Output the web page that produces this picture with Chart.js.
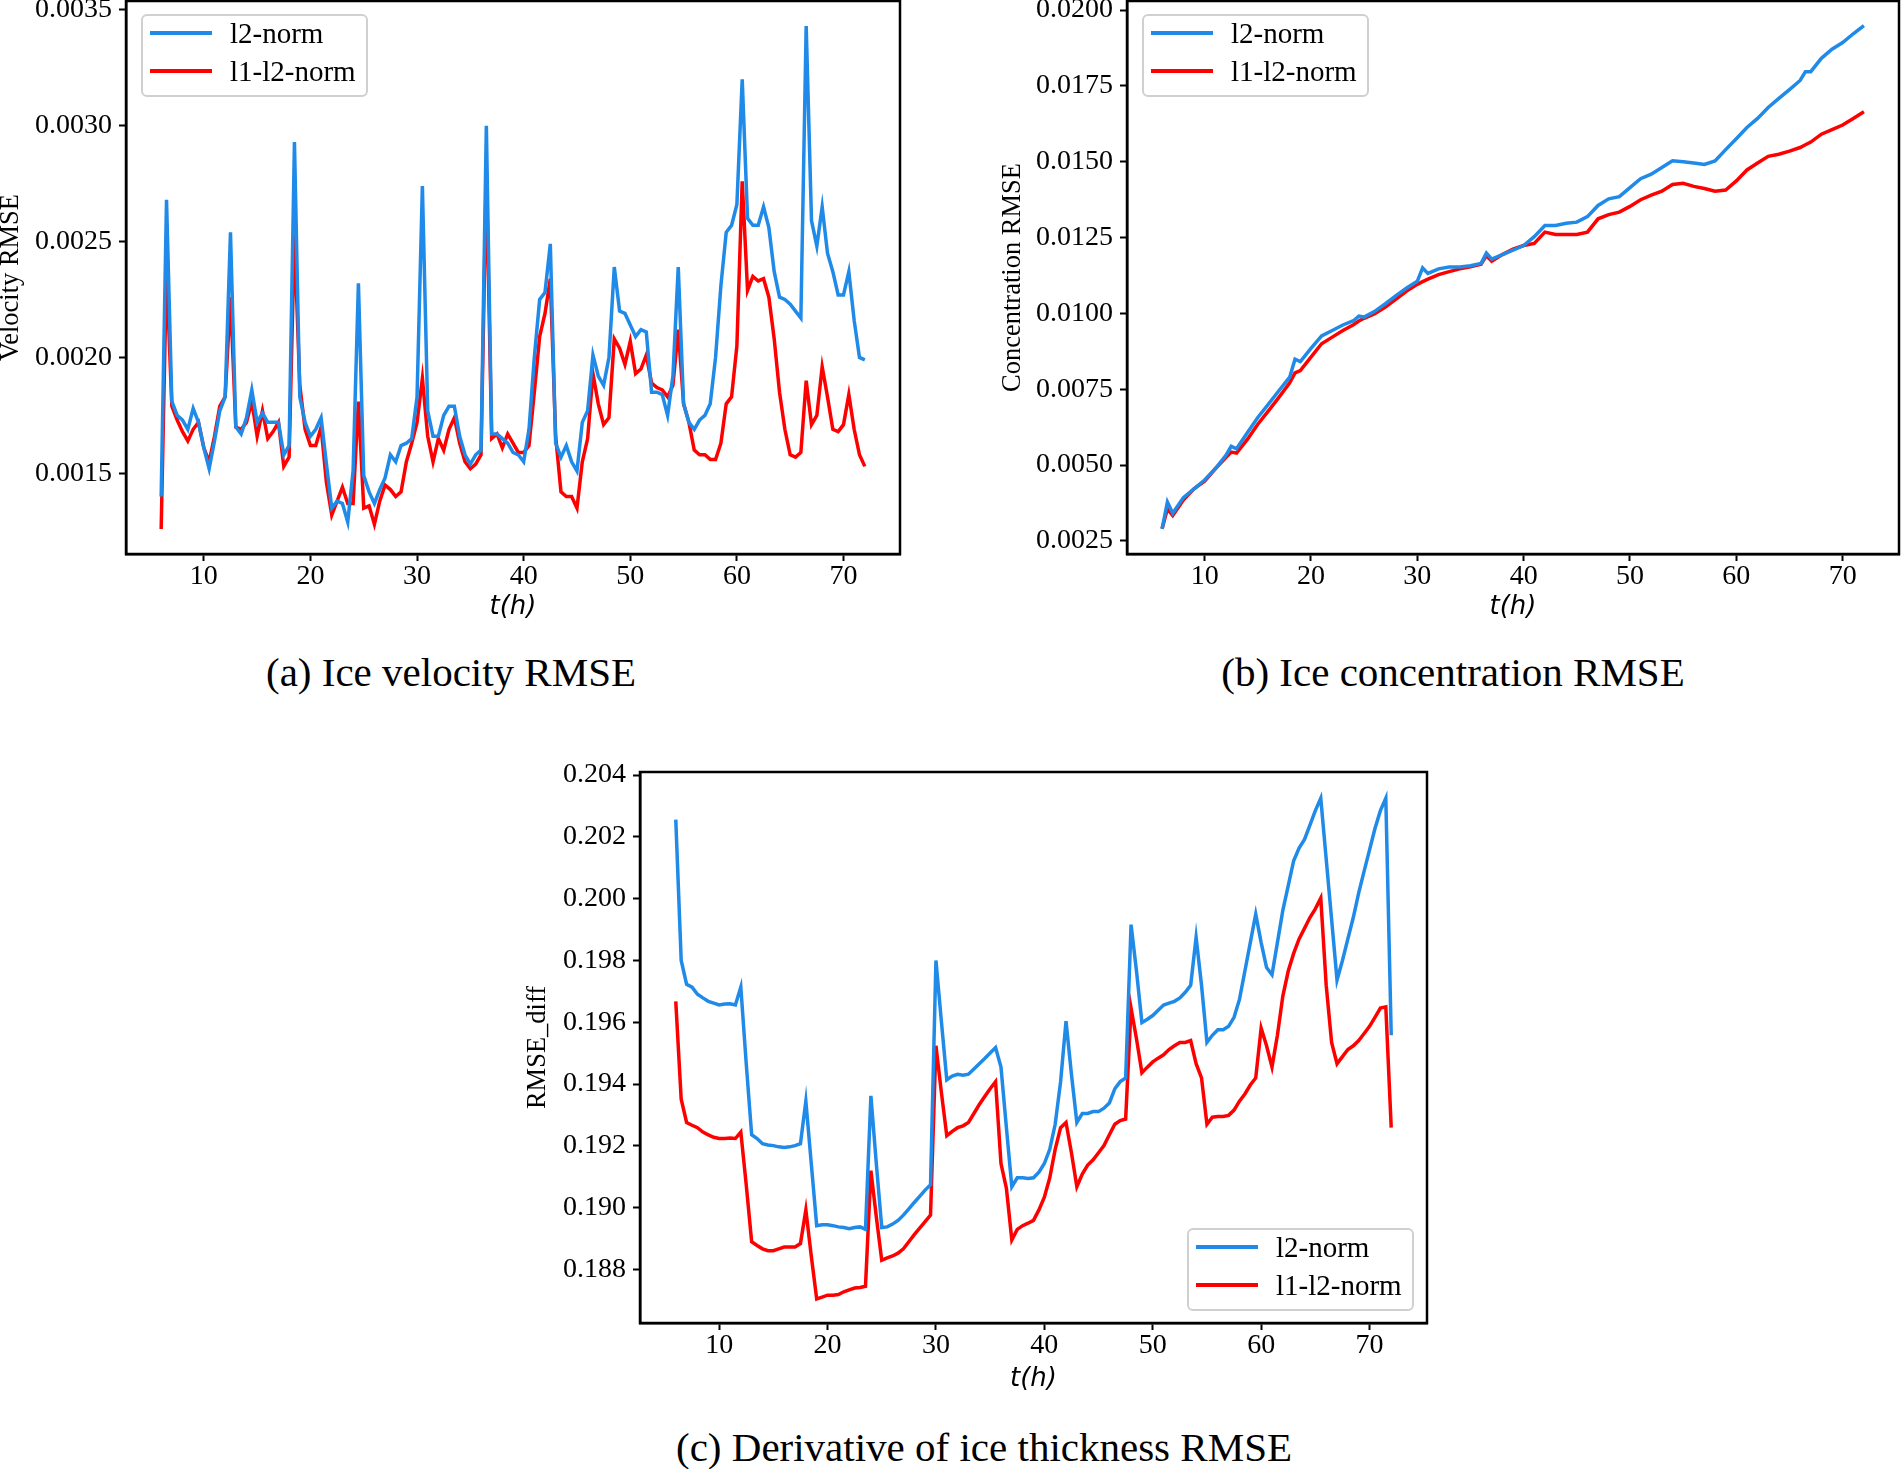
<!DOCTYPE html>
<html>
<head>
<meta charset="utf-8">
<script src="https://cdn.jsdelivr.net/npm/chart.js@4/dist/chart.umd.min.js"></script>
<style>
  body { margin: 0; width: 1901px; height: 1469px; background: #fff; position: relative; overflow: hidden; }
  canvas { position: absolute; }
  .caption {
    position: absolute; transform: translate(-50%, -50%); white-space: nowrap;
    font-family: "Liberation Serif", serif; font-size: 41px; color: #000;
  }
  .legend {
    position: absolute; width: 227px; height: 83px; box-sizing: border-box;
    background: #fff; border: 2px solid #d0d0d0; border-radius: 6px;
    font-family: "Liberation Serif", serif; font-size: 29px; color: #000;
  }
  .legend .swatch { position: absolute; left: 7px; width: 62px; height: 4px; }
  .legend .label { position: absolute; left: 87px; transform: translateY(-50%); line-height: 1; white-space: nowrap; }
</style>
</head>
<body>
<canvas id="chart-vel" width="920" height="670" style="left:0px;top:-30px"></canvas>
<canvas id="chart-conc" width="911" height="670" style="left:990px;top:-30px"></canvas>
<canvas id="chart-diff" width="950" height="660" style="left:500px;top:740px"></canvas>

<script>
const SERIES_LABELS = ["l2-norm", "l1-l2-norm"];
const SERIES_COLORS = ["#1f8ae8", "#ff0000"];
const X_TICKS = [10, 20, 30, 40, 50, 60, 70];

// hours, every half hour from 6 to 72
const halfHours = [
  6, 6.5, 7, 7.5, 8, 8.5, 9, 9.5, 10, 10.5,
  11, 11.5, 12, 12.5, 13, 13.5, 14, 14.5, 15, 15.5,
  16, 16.5, 17, 17.5, 18, 18.5, 19, 19.5, 20, 20.5,
  21, 21.5, 22, 22.5, 23, 23.5, 24, 24.5, 25, 25.5,
  26, 26.5, 27, 27.5, 28, 28.5, 29, 29.5, 30, 30.5,
  31, 31.5, 32, 32.5, 33, 33.5, 34, 34.5, 35, 35.5,
  36, 36.5, 37, 37.5, 38, 38.5, 39, 39.5, 40, 40.5,
  41, 41.5, 42, 42.5, 43, 43.5, 44, 44.5, 45, 45.5,
  46, 46.5, 47, 47.5, 48, 48.5, 49, 49.5, 50, 50.5,
  51, 51.5, 52, 52.5, 53, 53.5, 54, 54.5, 55, 55.5,
  56, 56.5, 57, 57.5, 58, 58.5, 59, 59.5, 60, 60.5,
  61, 61.5, 62, 62.5, 63, 63.5, 64, 64.5, 65, 65.5,
  66, 66.5, 67, 67.5, 68, 68.5, 69, 69.5, 70, 70.5,
  71, 71.5, 72,
];

// (a) ice velocity RMSE
const velL2 = [
  0.00140, 0.00268, 0.00181, 0.00175, 0.00173, 0.00169, 0.00178, 0.00172, 0.00161, 0.00152,
  0.00164, 0.00177, 0.00183, 0.00254, 0.00170, 0.00167, 0.00174, 0.00186, 0.00172, 0.00176,
  0.00172, 0.00172, 0.00172, 0.00158, 0.00162, 0.00293, 0.00183, 0.00172, 0.00166, 0.00169,
  0.00174, 0.00154, 0.00135, 0.00138, 0.00137, 0.00129, 0.00151, 0.00232, 0.00149, 0.00142,
  0.00137, 0.00143, 0.00148, 0.00158, 0.00155, 0.00162, 0.00163, 0.00165, 0.00183, 0.00274,
  0.00177, 0.00166, 0.00166, 0.00175, 0.00179, 0.00179, 0.00166, 0.00158, 0.00154, 0.00158,
  0.00160, 0.00300, 0.00167, 0.00167, 0.00165, 0.00163, 0.00159, 0.00158, 0.00155, 0.00169,
  0.00200, 0.00225, 0.00228, 0.00249, 0.00163, 0.00157, 0.00162, 0.00155, 0.00151, 0.00172,
  0.00177, 0.00201, 0.00192, 0.00188, 0.00200, 0.00239, 0.00220, 0.00219, 0.00214, 0.00209,
  0.00212, 0.00211, 0.00185, 0.00185, 0.00184, 0.00175, 0.00192, 0.00239, 0.00180, 0.00172,
  0.00169, 0.00173, 0.00175, 0.00180, 0.00200, 0.00231, 0.00254, 0.00257, 0.00266, 0.00320,
  0.00260, 0.00257, 0.00257, 0.00265, 0.00256, 0.00237, 0.00226, 0.00225, 0.00223, 0.00220,
  0.00217, 0.00343, 0.00259, 0.00248, 0.00265, 0.00245, 0.00237, 0.00227, 0.00227, 0.00237,
  0.00216, 0.00200, 0.00199,
];
const velL1L2 = [
  0.00126, 0.00238, 0.00179, 0.00173, 0.00168, 0.00164, 0.00169, 0.00172, 0.00161, 0.00155,
  0.00166, 0.00179, 0.00183, 0.00226, 0.00170, 0.00169, 0.00172, 0.00181, 0.00166, 0.00177,
  0.00165, 0.00168, 0.00172, 0.00153, 0.00157, 0.00253, 0.00188, 0.00169, 0.00162, 0.00162,
  0.00170, 0.00146, 0.00132, 0.00138, 0.00144, 0.00137, 0.00137, 0.00181, 0.00135, 0.00136,
  0.00128, 0.00138, 0.00145, 0.00143, 0.00140, 0.00142, 0.00155, 0.00163, 0.00172, 0.00191,
  0.00166, 0.00155, 0.00165, 0.00160, 0.00169, 0.00174, 0.00163, 0.00155, 0.00152, 0.00154,
  0.00158, 0.00280, 0.00165, 0.00167, 0.00161, 0.00167, 0.00163, 0.00159, 0.00159, 0.00162,
  0.00185, 0.00209, 0.00219, 0.00234, 0.00166, 0.00142, 0.00140, 0.00140, 0.00135, 0.00155,
  0.00165, 0.00193, 0.00180, 0.00171, 0.00174, 0.00208, 0.00204, 0.00197, 0.00207, 0.00193,
  0.00195, 0.00201, 0.00189, 0.00187, 0.00186, 0.00183, 0.00188, 0.00212, 0.00180, 0.00172,
  0.00160, 0.00158, 0.00158, 0.00156, 0.00156, 0.00163, 0.00180, 0.00183, 0.00205, 0.00276,
  0.00229, 0.00235, 0.00233, 0.00234, 0.00226, 0.00208, 0.00185, 0.00169, 0.00158, 0.00157,
  0.00159, 0.00190, 0.00171, 0.00175, 0.00196, 0.00183, 0.00169, 0.00168, 0.00171, 0.00184,
  0.00169, 0.00158, 0.00153,
];
const velTicks = [0.0015, 0.0020, 0.0025, 0.0030, 0.0035];

// (b) ice concentration RMSE
const concHours = [
  6, 6.5, 7, 8, 9, 10, 11, 12, 12.5, 13, 14, 15, 16, 17, 18, 18.5,
  19, 20, 21, 22, 23, 24, 24.5, 25, 26, 27, 28, 29, 30, 30.5,
  31, 32, 33, 34, 35, 36, 36.5, 37, 38, 39, 40, 41, 42, 43, 44, 45,
  46, 47, 48, 49, 50, 51, 52, 53, 54, 55, 56, 57, 58, 59, 60,
  61, 62, 63, 64, 65, 66, 66.5, 67, 68, 69, 70, 71, 72,
];
const concL2 = [
  0.00290, 0.00378, 0.00341, 0.00393, 0.00422, 0.00451, 0.00488, 0.00532, 0.00562, 0.00554, 0.00606, 0.00657, 0.00701, 0.00746, 0.00790, 0.00849,
  0.00841, 0.00885, 0.00926, 0.00944, 0.00962, 0.00976, 0.00991, 0.00988, 0.01007, 0.01032, 0.01059, 0.01084, 0.01106, 0.01150,
  0.01132, 0.01147, 0.01153, 0.01153, 0.01157, 0.01165, 0.01199, 0.01179, 0.01194, 0.01209, 0.01224, 0.01253, 0.01290, 0.01290, 0.01297, 0.01301,
  0.01319, 0.01356, 0.01378, 0.01385, 0.01415, 0.01444, 0.01459, 0.01481, 0.01503, 0.01500, 0.01496, 0.01491, 0.01503, 0.01540, 0.01576,
  0.01613, 0.01643, 0.01679, 0.01709, 0.01738, 0.01768, 0.01797, 0.01797, 0.01841, 0.01871, 0.01893, 0.01922, 0.01949,
];
const concL1L2 = [
  0.00290, 0.00356, 0.00334, 0.00385, 0.00422, 0.00447, 0.00488, 0.00525, 0.00543, 0.00540, 0.00584, 0.00635, 0.00679, 0.00724, 0.00771, 0.00804,
  0.00812, 0.00856, 0.00900, 0.00922, 0.00944, 0.00963, 0.00975, 0.00984, 0.00999, 0.01021, 0.01047, 0.01074, 0.01096, 0.01105,
  0.01113, 0.01128, 0.01138, 0.01147, 0.01154, 0.01162, 0.01191, 0.01172, 0.01194, 0.01212, 0.01224, 0.01231, 0.01268, 0.01260, 0.01260, 0.01260,
  0.01268, 0.01312, 0.01326, 0.01334, 0.01353, 0.01375, 0.01390, 0.01403, 0.01425, 0.01429, 0.01419, 0.01412, 0.01403, 0.01407, 0.01437,
  0.01473, 0.01496, 0.01518, 0.01525, 0.01535, 0.01547, 0.01556, 0.01565, 0.01591, 0.01606, 0.01621, 0.01643, 0.01665,
];
const concTicks = [0.0025, 0.0050, 0.0075, 0.0100, 0.0125, 0.0150, 0.0175, 0.0200];

// (c) derivative of ice thickness RMSE
const diffL2 = [
  0.20256, 0.19800, 0.19723, 0.19714, 0.19691, 0.19679, 0.19668, 0.19662, 0.19656, 0.19659,
  0.19660, 0.19656, 0.19714, 0.19466, 0.19236, 0.19224, 0.19207, 0.19203, 0.19201, 0.19197,
  0.19195, 0.19197, 0.19201, 0.19207, 0.19345, 0.19143, 0.18942, 0.18945, 0.18945, 0.18942,
  0.18938, 0.18936, 0.18932, 0.18936, 0.18938, 0.18930, 0.19362, 0.19143, 0.18936, 0.18938,
  0.18947, 0.18959, 0.18976, 0.18996, 0.19017, 0.19037, 0.19057, 0.19074, 0.19800, 0.19604,
  0.19414, 0.19426, 0.19432, 0.19429, 0.19432, 0.19449, 0.19466, 0.19483, 0.19501, 0.19518,
  0.19455, 0.19259, 0.19068, 0.19097, 0.19097, 0.19095, 0.19097, 0.19115, 0.19143, 0.19189,
  0.19270, 0.19408, 0.19604, 0.19432, 0.19276, 0.19305, 0.19305, 0.19311, 0.19311, 0.19322,
  0.19339, 0.19385, 0.19408, 0.19420, 0.19916, 0.19766, 0.19599, 0.19610, 0.19622, 0.19639,
  0.19656, 0.19662, 0.19668, 0.19679, 0.19697, 0.19720, 0.19875, 0.19720, 0.19535, 0.19558,
  0.19576, 0.19576, 0.19587, 0.19616, 0.19674, 0.19766, 0.19858, 0.19950, 0.19858, 0.19777,
  0.19754, 0.19858, 0.19962, 0.20042, 0.20123, 0.20164, 0.20192, 0.20238, 0.20285, 0.20325,
  0.20129, 0.19933, 0.19737, 0.19800, 0.19870, 0.19939, 0.20019, 0.20089, 0.20158, 0.20227,
  0.20285, 0.20325, 0.19558,
];
const diffL1L2 = [
  0.19668, 0.19351, 0.19276, 0.19267, 0.19259, 0.19245, 0.19236, 0.19228, 0.19224, 0.19224,
  0.19226, 0.19224, 0.19245, 0.19074, 0.18890, 0.18878, 0.18867, 0.18861, 0.18861, 0.18867,
  0.18873, 0.18873, 0.18873, 0.18884, 0.18993, 0.18844, 0.18705, 0.18711, 0.18717, 0.18717,
  0.18719, 0.18728, 0.18734, 0.18740, 0.18742, 0.18746, 0.19120, 0.18970, 0.18830, 0.18838,
  0.18844, 0.18853, 0.18867, 0.18890, 0.18913, 0.18934, 0.18955, 0.18976, 0.19524, 0.19374,
  0.19233, 0.19247, 0.19259, 0.19265, 0.19276, 0.19305, 0.19334, 0.19360, 0.19385, 0.19408,
  0.19143, 0.19063, 0.18896, 0.18930, 0.18942, 0.18950, 0.18959, 0.18993, 0.19034, 0.19097,
  0.19189, 0.19259, 0.19276, 0.19178, 0.19068, 0.19109, 0.19138, 0.19155, 0.19178, 0.19201,
  0.19236, 0.19270, 0.19282, 0.19287, 0.19646, 0.19547, 0.19437, 0.19455, 0.19472, 0.19484,
  0.19495, 0.19512, 0.19524, 0.19535, 0.19535, 0.19541, 0.19466, 0.19420, 0.19270, 0.19293,
  0.19295, 0.19295, 0.19299, 0.19316, 0.19345, 0.19368, 0.19397, 0.19420, 0.19581, 0.19524,
  0.19455, 0.19558, 0.19685, 0.19766, 0.19823, 0.19870, 0.19904, 0.19939, 0.19967, 0.20002,
  0.19720, 0.19535, 0.19466, 0.19489, 0.19512, 0.19524, 0.19541, 0.19564, 0.19587, 0.19616,
  0.19646, 0.19650, 0.19259,
];
const diffTicks = [0.188, 0.190, 0.192, 0.194, 0.196, 0.198, 0.200, 0.202, 0.204];

Chart.defaults.font.family = '"Liberation Serif", serif';
Chart.defaults.color = "#000";

// black box around the plot area, like matplotlib spines
const framePlugin = {
  id: "frame",
  afterDraw(chart) {
    const { ctx, chartArea: a } = chart;
    ctx.save();
    ctx.strokeStyle = "#000";
    ctx.lineWidth = 2.5;
    ctx.strokeRect(a.left, a.top, a.right - a.left, a.bottom - a.top);
    ctx.restore();
  },
};

const tickGrid = {
  drawOnChartArea: false,
  drawTicks: true,
  tickLength: 7,
  tickWidth: 2,
  tickColor: "#000",
};

function buildChart(canvasId, cfg) {
  const { box, area, xs, series, yMin, yMax, yTicks, yDigits, yTitle, yTitlePad, xTitlePad } = cfg;
  const datasets = series.map((values, i) => ({
    label: SERIES_LABELS[i],
    data: xs.map((x, j) => ({ x, y: values[j] })),
    borderColor: SERIES_COLORS[i],
    backgroundColor: SERIES_COLORS[i],
    borderWidth: 3.5,
    pointRadius: 0,
    tension: 0,
    fill: false,
  }));

  return new Chart(document.getElementById(canvasId), {
    type: "line",
    data: { datasets },
    plugins: [framePlugin],
    options: {
      responsive: false,
      animation: false,
      devicePixelRatio: 1,
      layout: {
        padding: {
          left: 0,
          top: area.top - box.top,
          right: box.left + box.width - area.right,
          bottom: 0,
        },
      },
      plugins: { legend: { display: false }, tooltip: { enabled: false } },
      scales: {
        x: {
          type: "linear",
          min: 2.7,
          max: 75.3,
          afterFit: (s) => { s.height = box.top + box.height - area.bottom; },
          afterBuildTicks: (s) => { s.ticks = X_TICKS.map((v) => ({ value: v })); },
          ticks: {
            callback: (v) => String(v),
            autoSkip: false,
            maxRotation: 0,
            padding: 2,
            font: { size: 28, lineHeight: 1 },
            color: "#000",
          },
          grid: tickGrid,
          border: { display: true, color: "#000", width: 2.5 },
          title: {
            display: true,
            text: "t(h)",
            color: "#000",
            font: { family: '"DejaVu Sans", sans-serif', style: "italic", size: 26, lineHeight: 1 },
            padding: { top: 0, bottom: xTitlePad },
          },
        },
        y: {
          type: "linear",
          min: yMin,
          max: yMax,
          afterFit: (s) => { s.width = area.left - box.left; },
          afterBuildTicks: (s) => { s.ticks = yTicks.map((v) => ({ value: v })); },
          ticks: {
            callback: (v) => Number(v).toFixed(yDigits),
            autoSkip: false,
            padding: 7,
            font: { size: 28, lineHeight: 1 },
            color: "#000",
          },
          grid: tickGrid,
          border: { display: true, color: "#000", width: 2.5 },
          title: {
            display: true,
            text: yTitle,
            color: "#000",
            font: { size: 26.5, lineHeight: 1 },
            padding: { top: yTitlePad, bottom: 0 },
          },
        },
      },
    },
  });
}

function addLegend(left, top) {
  const box = document.createElement("div");
  box.className = "legend";
  box.style.left = `${left}px`;
  box.style.top = `${top}px`;
  SERIES_LABELS.forEach((label, i) => {
    const cy = 17 + i * 38;
    const sw = document.createElement("div");
    sw.className = "swatch";
    sw.style.top = `${cy - 2}px`;
    sw.style.background = SERIES_COLORS[i];
    const tx = document.createElement("div");
    tx.className = "label";
    tx.style.top = `${cy}px`;
    tx.textContent = label;
    box.appendChild(sw);
    box.appendChild(tx);
  });
  document.body.appendChild(box);
}

function addCaption(text, cx, cy) {
  const el = document.createElement("div");
  el.className = "caption";
  el.style.left = `${cx}px`;
  el.style.top = `${cy}px`;
  el.textContent = text;
  document.body.appendChild(el);
}

buildChart("chart-vel", {
  box: { left: 0, top: -30, width: 920, height: 670 },
  area: { left: 126, top: 1, right: 900, bottom: 554 },
  xs: halfHours,
  series: [velL2, velL1L2],
  yMin: 0.001152, yMax: 0.003538,
  yTicks: velTicks, yDigits: 4,
  yTitle: "Velocity RMSE", yTitlePad: -2, xTitlePad: 20,
});

buildChart("chart-conc", {
  box: { left: 990, top: -30, width: 911, height: 670 },
  area: { left: 1127, top: 1, right: 1899, bottom: 554 },
  xs: concHours,
  series: [concL2, concL1L2],
  yMin: 0.00207, yMax: 0.02030,
  yTicks: concTicks, yDigits: 4,
  yTitle: "Concentration RMSE", yTitlePad: 10, xTitlePad: 20,
});

buildChart("chart-diff", {
  box: { left: 500, top: 740, width: 950, height: 660 },
  area: { left: 640, top: 772, right: 1427, bottom: 1323 },
  xs: halfHours,
  series: [diffL2, diffL1L2],
  yMin: 0.18627, yMax: 0.20410,
  yTicks: diffTicks, yDigits: 3,
  yTitle: "RMSE_diff", yTitlePad: 25, xTitlePad: 8,
});

addLegend(141, 14);
addLegend(1142, 14);
addLegend(1187, 1228);

addCaption("(a) Ice velocity RMSE", 451, 672);
addCaption("(b) Ice concentration RMSE", 1453, 672);
addCaption("(c) Derivative of ice thickness RMSE", 984, 1447);
</script>
</body>
</html>
